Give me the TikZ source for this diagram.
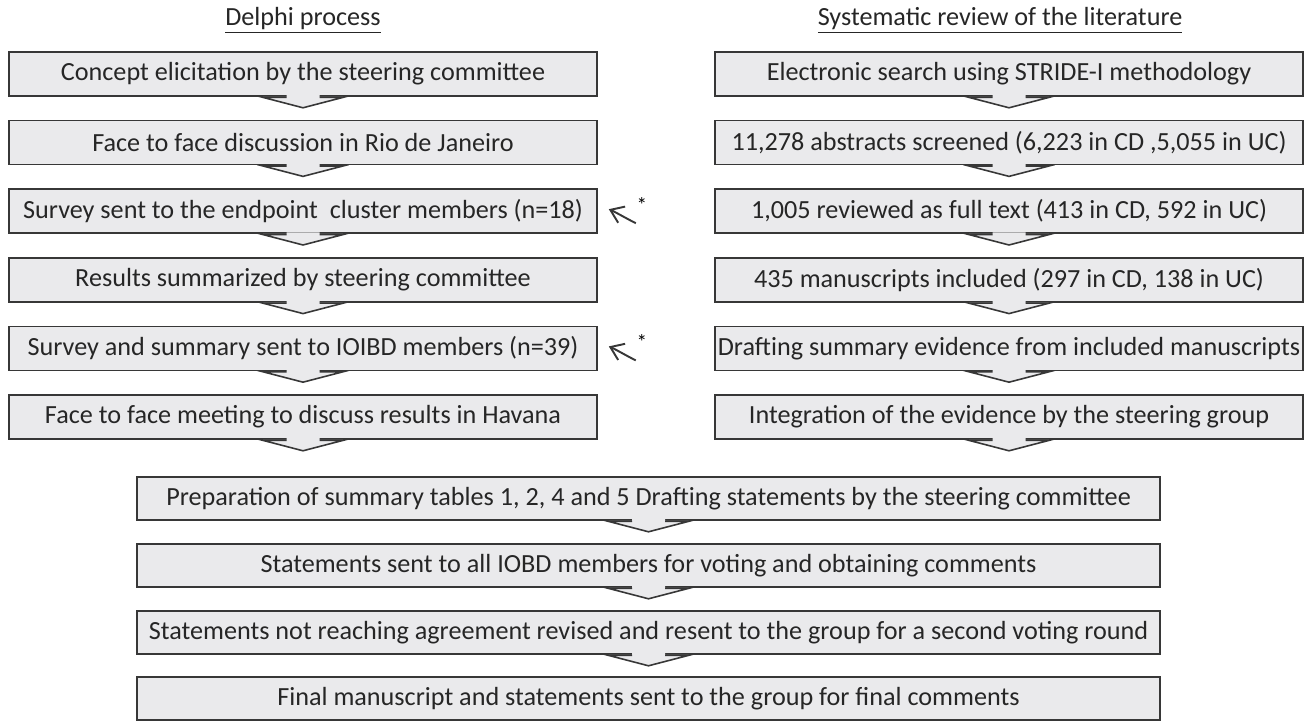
\documentclass[tikz,border=0pt]{standalone}
\usepackage{fontspec}
\setmainfont{Carlito}
\usetikzlibrary{calc,arrows.meta}
\definecolor{boxfill}{RGB}{234,234,236}
\definecolor{edge}{RGB}{55,55,55}
\tikzset{
  x=0.02cm, y=-0.02cm,
  stage/.style={draw=edge, line width=0.9pt, fill=boxfill, minimum height=44*0.02cm, inner sep=0pt, font=\fontsize{14.9}{17}\selectfont, text=black!85},
  colbox/.style={stage, minimum width=588*0.02cm},
  widebox/.style={stage, minimum width=1023*0.02cm, minimum height=43*0.02cm},
  heading/.style={font=\fontsize{14.9}{17}\selectfont, text=black!85},
  chevline/.style={draw=edge, line width=0.9pt, line join=miter},
  loopline/.style={draw=edge, line width=1.1pt},
}
\newcommand\chevron[1]{%
  \fill[boxfill] ($(#1.south)+(-16.5,-1.6)$) -- ($(#1.south)+(-16.5,0)$) -- ($(#1.south)+(-40,0)$) -- ($(#1.south)+(0,11)$) -- ($(#1.south)+(40,0)$) -- ($(#1.south)+(16.5,0)$) -- ($(#1.south)+(16.5,-1.6)$) -- cycle;
  \draw[chevline] ($(#1.south)+(-16.5,0.6)$) -- ($(#1.south)+(-40,0.6)$) -- ($(#1.south)+(0,11)$) -- ($(#1.south)+(40,0.6)$) -- ($(#1.south)+(16.5,0.6)$);
}
\newcommand\loopback[1]{%
  \coordinate (#1s) at ($(#1.east)+(38,12)$);
  \coordinate (#1e) at ($(#1.east)+(11,-2)$);
  \draw[loopline, -{Straight Barb[length=7pt,width=10pt]}] (#1s) .. controls ($(#1.east)+(28,7)$) and ($(#1.east)+(18,1)$) .. (#1e);
  \node[font=\fontsize{12}{12}\selectfont, inner sep=0pt] (#1a) at ($(#1.east)+(44,-6)$) {*};
}
\begin{document}
\begin{tikzpicture}
\useasboundingbox (0,0) rectangle (1311,722);
\node[heading] (hl) at (303,20) {\underline{Delphi process}};
\node[heading] (hr) at (1000,20) {\underline{Systematic review of the literature}};

\node[colbox] (l1) at (303,74) {Concept elicitation by the steering committee};
\node[colbox] (l2) at (303,142.6) {Face to face discussion in Rio de Janeiro};
\node[colbox] (l3) at (303,211.2) {Survey sent to the endpoint\ \ cluster members (n=18)};
\node[colbox] (l4) at (303,279.8) {Results summarized by steering committee};
\node[colbox] (l5) at (303,348.4) {Survey and summary sent to IOIBD members (n=39)};
\node[colbox] (l6) at (303,417) {Face to face meeting to discuss results in Havana};

\node[colbox] (r1) at (1009,74) {Electronic search using STRIDE-I methodology};
\node[colbox] (r2) at (1009,142.6) {11,278 abstracts screened (6,223 in CD ,5,055 in UC)};
\node[colbox] (r3) at (1009,211.2) {1,005 reviewed as full text (413 in CD, 592 in UC)};
\node[colbox] (r4) at (1009,279.8) {435 manuscripts included (297 in CD, 138 in UC)};
\node[colbox] (r5) at (1009,348.4) {Drafting summary evidence from included manuscripts};
\node[colbox] (r6) at (1009,417) {Integration of the evidence by the steering group};

\node[widebox] (b1) at (648.5,498.5) {Preparation of summary tables 1, 2, 4 and 5 Drafting statements by the steering committee};
\node[widebox] (b2) at (648.5,565.5) {Statements sent to all IOBD members for voting and obtaining comments};
\node[widebox] (b3) at (648.5,632.5) {Statements not reaching agreement revised and resent to the group for a second voting round};
\node[widebox] (b4) at (648.5,698.5) {Final manuscript and statements sent to the group for final comments};

\foreach \n in {l1,l2,l3,l4,l5,l6,r1,r2,r3,r4,r5,r6,b1,b2,b3} {\chevron{\n}}

\loopback{l3}
\loopback{l5}
\end{tikzpicture}
\end{document}
